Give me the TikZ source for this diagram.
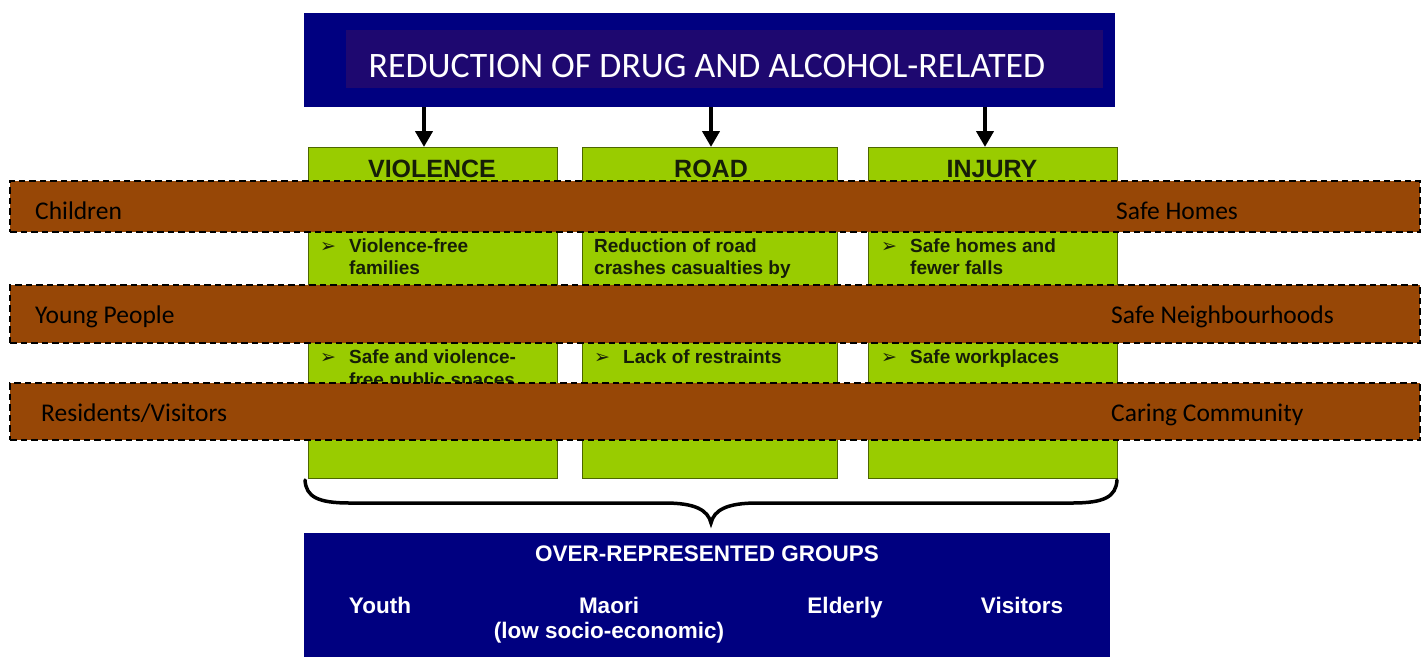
\documentclass[tikz,border=0pt]{standalone}
\usepackage{fontspec}
\setmainfont{Liberation Sans}
\newfontfamily\calibrifont{Carlito}
\newfontfamily\dingfont{DejaVu Sans}
\usetikzlibrary{arrows.meta}
\definecolor{navy}{RGB}{0,0,128}
\definecolor{navyin}{RGB}{30,8,112}
\definecolor{grn}{RGB}{153,204,0}
\definecolor{brn}{RGB}{151,71,6}
\definecolor{gtext}{RGB}{22,30,8}
\begin{document}
\begin{tikzpicture}[x=1pt,y=-1pt,
  box/.style={draw=none, inner sep=0, outer sep=0},
  greenbox/.style={box, fill=grn, draw=grn!50!black, line width=1pt},
  band/.style={box, fill=brn, draw=black, line width=2pt, dash pattern=on 6.5pt off 4pt},
  bandtxt/.style={font=\calibrifont\fontsize{25.5}{30}\selectfont, text=black, anchor=base west, inner sep=0},
  gtitle/.style={font=\bfseries\fontsize{25}{29}\selectfont, text=gtext, anchor=base, inner sep=0},
  gtxt/.style={font=\bfseries\fontsize{19}{22}\selectfont, text=gtext, anchor=base west, inner sep=0},
  bul/.style={font=\dingfont\bfseries\fontsize{19}{21}\selectfont, text=gtext, anchor=base west, inner sep=0},
  wtxt/.style={font=\bfseries\fontsize{22.5}{26}\selectfont, text=white, anchor=base, inner sep=0},
  arr/.style={-{Triangle[length=16pt,width=17pt]}, line width=4.5pt, black}
]
\useasboundingbox (0,0) rectangle (1428,657);
% top box
\node[box, fill=navy, minimum width=811pt, minimum height=94pt] (top) at (709.5,60) {};
\node[box, fill=navyin, minimum width=757pt, minimum height=58pt] (topin) at (724.5,59) {};
\node[font=\calibrifont\fontsize{35.8}{40}\selectfont, text=white, anchor=base, inner sep=0] (title) at (707,77) {REDUCTION OF DRUG AND ALCOHOL-RELATED};
% green boxes
\node[greenbox, minimum width=249pt, minimum height=331pt] (viol) at (432.5,312.5) {};
\node[greenbox, minimum width=255pt, minimum height=331pt] (road) at (709.5,312.5) {};
\node[greenbox, minimum width=249pt, minimum height=331pt] (inj) at (992.5,312.5) {};
% arrows
\draw[arr] (top.south -| 424,0) -- (424,0 |- viol.north);
\draw[arr] (top.south -| 711,0) -- (711,0 |- road.north);
\draw[arr] (top.south -| 985,0) -- (985,0 |- inj.north);
% titles
\node[gtitle] (tv) at (432,177) {VIOLENCE};
\node[gtitle] (tr) at (711,177) {ROAD};
\node[gtitle] (ti) at (992,177) {INJURY};
% green texts
\node[bul] (b1) at (320,252) {➢};
\node[gtxt] (v1) at (349,252) {Violence-free};
\node[gtxt] (v2) at (349,274) {families};
\node[gtxt] (r1) at (594,252) {Reduction of road};
\node[gtxt] (r2) at (594,274) {crashes casualties by};
\node[bul] (b2) at (881,252) {➢};
\node[gtxt] (i1) at (910,252) {Safe homes and};
\node[gtxt] (i2) at (910,274) {fewer falls};
\node[bul] (b3) at (320,363) {➢};
\node[gtxt] (v3) at (349,363) {Safe and violence-};
\node[gtxt] (v4) at (349,386) {free public spaces};
\node[bul] (b4) at (594,363) {➢};
\node[gtxt] (r3) at (623,363) {Lack of restraints};
\node[bul] (b5) at (881,363) {➢};
\node[gtxt] (i3) at (910,363) {Safe workplaces};
% bands
\node[band, minimum width=1410pt, minimum height=51pt] (band1) at (715,206.5) {};
\node[band, minimum width=1410pt, minimum height=58pt] (band2) at (715,314) {};
\node[band, minimum width=1410pt, minimum height=57pt] (band3) at (715,411.5) {};
\node[bandtxt] (l1) at (35,219) {Children};
\node[bandtxt] (l2) at (35,323) {Young People};
\node[bandtxt] (l3) at (41,421) {Residents/Visitors};
\node[bandtxt] (q1) at (1116,219) {Safe Homes};
\node[bandtxt] (q2) at (1111,323) {Safe Neighbourhoods};
\node[bandtxt] (q3) at (1111,421) {Caring Community};
% brace
\draw[line width=3.5pt, line cap=round] (305,480) .. controls (306,497) and (318,503) .. (350,503)
  -- (665,503) .. controls (695,503) and (708,510) .. (711,523)
  .. controls (714,510) and (727,503) .. (757,503)
  -- (1072,503) .. controls (1104,503) and (1116,497) .. (1117,480);
% bottom box
\node[box, fill=navy, minimum width=806pt, minimum height=124pt, anchor=north west] (bot) at (304,533) {};
\node[wtxt] (og) at (707,561) {OVER-REPRESENTED GROUPS};
\node[wtxt] (g1) at (380,613) {Youth};
\node[wtxt] (g2) at (609,613) {Maori};
\node[wtxt] (g2b) at (609,638) {(low socio-economic)};
\node[wtxt] (g3) at (845,613) {Elderly};
\node[wtxt] (g4) at (1022,613) {Visitors};
\end{tikzpicture}
\end{document}
